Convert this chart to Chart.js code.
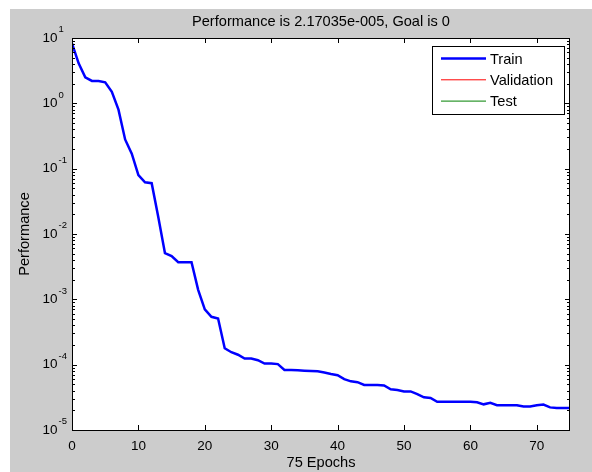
<!DOCTYPE html>
<html lang="en">
<head>
    <meta charset="UTF-8">
    <title>performance</title>
    <script src="https://cdn.jsdelivr.net/npm/chart.js@4.4.1/dist/chart.umd.min.js"></script>
    <style>
        html, body { margin: 0; padding: 0; background: #fff; }
        #wrap { width: 592px; height: 472px; }
    </style>
</head>
<body>
    <div id="wrap"><canvas id="perf" width="592" height="472"></canvas></div>
    <script>
        // values
        let epochs = [];
        for (let i = 0; i <= 75; i++) epochs.push(i);
        let trainPerf = [
            8.3, 4.1, 2.5, 2.2, 2.2, 2.1, 1.5, 0.8, 0.28, 0.17,
            0.08, 0.062, 0.06, 0.018, 0.0051, 0.0046, 0.0037, 0.0037, 0.0037, 0.0014,
            0.0007, 0.00054, 0.00051, 0.000178, 0.000155, 0.000142, 0.000124, 0.000124, 0.000117, 0.000104,
            0.000104, 0.000102, 0.000083, 0.000083, 0.000082, 0.000081, 0.00008, 0.000079, 0.000076, 0.000072,
            0.000069, 0.00006, 0.0000556, 0.000054, 0.000049, 0.000049, 0.000049, 0.000048, 0.000042, 0.000041,
            0.000039, 0.000039, 0.0000355, 0.0000316, 0.000031, 0.000027, 0.000027, 0.000027, 0.000027, 0.000027,
            0.000027, 0.0000265, 0.0000247, 0.000026, 0.000024, 0.000024, 0.000024, 0.000024, 0.0000229, 0.0000229,
            0.000024, 0.0000245, 0.0000222, 0.0000217, 0.0000217, 0.0000217
        ];
        let validationPerf = [];
        let testPerf = [];
        let xTicks = [0, 10, 20, 30, 40, 50, 60, 70];
        let yExponents = [-5, -4, -3, -2, -1, 0, 1];
        let titleText = 'Performance is 2.17035e-005, Goal is 0';

        const FONT = "Arial, 'Liberation Sans', sans-serif";
        const GRAY = '#cccccc';

        let pts = epochs.map((e, i) => ({ x: e, y: trainPerf[i] }));

        // matlab style frame: gray figure, inward ticks, superscript labels, boxed legend
        const matlabFrame = {
            id: 'matlabFrame',
            beforeDraw(chart) {
                const c = chart.ctx, a = chart.chartArea;
                c.save();
                c.fillStyle = '#fff';
                c.fillRect(0, 0, chart.width, chart.height);
                c.fillStyle = GRAY;
                c.fillRect(10, 9, chart.width - 10, chart.height - 9);
                c.fillStyle = '#fff';
                c.fillRect(a.left, a.top, a.right - a.left, a.bottom - a.top);
                // title, centred over the axes
                c.fillStyle = '#000';
                c.font = '14.6px ' + FONT;
                c.textAlign = 'center';
                c.textBaseline = 'alphabetic';
                c.fillText(titleText, (a.left + a.right) / 2, 25.6);
                c.restore();
            },
            afterDatasetsDraw(chart) {
                const c = chart.ctx, a = chart.chartArea;
                const xs = chart.scales.x, ys = chart.scales.y;
                c.save();
                c.strokeStyle = '#000';
                c.lineWidth = 1;
                c.beginPath();
                // x ticks top and bottom
                xTicks.forEach(v => {
                    let px = Math.round(xs.getPixelForValue(v)) + 0.5;
                    c.moveTo(px, a.bottom); c.lineTo(px, a.bottom - 5);
                    c.moveTo(px, a.top); c.lineTo(px, a.top + 5);
                });
                // y ticks left and right, with minor ones
                yExponents.forEach(p => {
                    for (let m = 1; m <= 9; m++) {
                        let v = m * Math.pow(10, p);
                        if (v > 10.0001) break;
                        let py = Math.round(ys.getPixelForValue(v)) + 0.5;
                        let len = m === 1 ? 5 : 3;
                        c.moveTo(a.left, py); c.lineTo(a.left + len, py);
                        c.moveTo(a.right, py); c.lineTo(a.right - len, py);
                    }
                });
                c.stroke();
                c.strokeRect(Math.round(a.left) + 0.5, Math.round(a.top) + 0.5,
                    Math.round(a.right - a.left) - 1, Math.round(a.bottom - a.top));

                // y labels 10^n
                c.fillStyle = '#000';
                c.textBaseline = 'middle';
                yExponents.forEach(p => {
                    let py = ys.getPixelForValue(Math.pow(10, p));
                    c.font = '13.5px ' + FONT;
                    c.textAlign = 'right';
                    c.fillText('10', 57.5, py);
                    c.font = '9.5px ' + FONT;
                    c.textAlign = 'left';
                    c.fillText(String(p), 58.5, py - 8.3);
                });

                // legend
                let lx = a.right - 138, ly = a.top + 8, lw = 132, lh = 68;
                c.fillStyle = '#fff';
                c.fillRect(lx, ly, lw, lh);
                c.strokeStyle = '#000';
                c.strokeRect(lx + 0.5, ly + 0.5, lw, lh);
                c.font = '14.6px ' + FONT;
                c.textAlign = 'left';
                chart.data.datasets.forEach((ds, i) => {
                    let y = ly + 12.5 + i * 21.3;
                    c.strokeStyle = ds.borderColor;
                    c.lineWidth = ds.borderWidth;
                    c.beginPath();
                    c.moveTo(lx + 9, y); c.lineTo(lx + 54, y);
                    c.stroke();
                    c.fillStyle = '#000';
                    c.fillText(ds.label, lx + 58, y + 1);
                });
                c.restore();
            }
        };

        let perf = document.getElementById('perf').getContext('2d');
        new Chart(perf, {
            type: 'line',
            data: {
                datasets: [
                    { label: 'Train', data: pts, borderColor: '#0000ff', borderWidth: 2.5, pointRadius: 0, tension: 0 },
                    { label: 'Validation', data: validationPerf, borderColor: '#ff0000', borderWidth: 1, pointRadius: 0 },
                    { label: 'Test', data: testPerf, borderColor: '#008000', borderWidth: 1, pointRadius: 0 }
                ]
            },
            options: {
                responsive: false,
                animation: false,
                layout: { padding: { left: 0, right: 22, top: 38, bottom: 0 } },
                plugins: {
                    legend: { display: false },
                    tooltip: { enabled: false },
                    title: { display: false }
                },
                scales: {
                    x: {
                        type: 'linear',
                        min: 0,
                        max: 75,
                        grid: { display: false },
                        border: { display: false },
                        afterBuildTicks: s => { s.ticks = xTicks.map(v => ({ value: v })); },
                        afterFit: s => { s.height = 42; },
                        ticks: { color: '#000', font: { family: FONT, size: 13.5 }, padding: 0, maxRotation: 0 },
                        title: { display: true, text: '75 Epochs', color: '#000', font: { family: FONT, size: 14.6 }, padding: { top: 0, bottom: 0 } }
                    },
                    y: {
                        type: 'logarithmic',
                        min: 1e-5,
                        max: 10,
                        grid: { display: false },
                        border: { display: false },
                        ticks: { display: false },
                        afterFit: s => { s.width = 72; },
                        title: { display: true, text: 'Performance', color: '#000', font: { family: FONT, size: 14.6 }, padding: { top: 16.7, bottom: 0 } }
                    }
                }
            },
            plugins: [matlabFrame]
        });
    </script>
</body>
</html>
